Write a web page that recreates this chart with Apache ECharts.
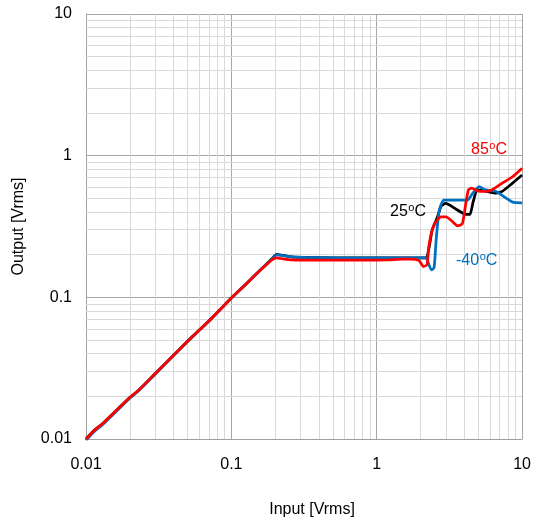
<!DOCTYPE html>
<html><head><meta charset="utf-8">
<script src="https://cdn.jsdelivr.net/npm/echarts@6/dist/echarts.min.js"></script>
<style>html,body{margin:0;padding:0;background:#fff}#c{width:534px;height:525px}</style>
</head><body><div id="c"></div>
<script>
const FONT = "'Liberation Sans', Arial, sans-serif";
// 25 °C (black)
const x25 = [0.01,0.0115,0.0131,0.02,0.0228,0.03,0.04,0.05,0.07,0.1,0.13,0.16,0.19,0.205,0.22,0.26,0.35,0.5,0.8,1.2,1.8,2.18,2.3,2.41,2.62,2.77,2.98,3.5,4.1,4.37,4.6,4.93,5.5,6.58,7.3,8.6,10];
const y25 = [0.01,0.0116,0.0129,0.0196,0.0219,0.029,0.039,0.049,0.068,0.099,0.128,0.158,0.187,0.201,0.199,0.193,0.191,0.19,0.19,0.19,0.19,0.19,0.23,0.30,0.37,0.44,0.46,0.42,0.385,0.385,0.47,0.573,0.565,0.545,0.56,0.64,0.73];
// -40 °C (blue)
const xM40 = [0.01,0.0115,0.0131,0.02,0.0228,0.03,0.04,0.05,0.07,0.1,0.13,0.16,0.19,0.205,0.22,0.26,0.35,0.5,0.8,1.2,1.8,2.18,2.24,2.38,2.48,2.56,2.69,2.9,3.5,4.2,4.5,5.06,5.6,6.58,7.8,8.6,10];
const yM40 = [0.0098,0.0114,0.0127,0.0194,0.0217,0.0288,0.0388,0.0488,0.0678,0.0985,0.128,0.157,0.186,0.199,0.198,0.193,0.191,0.19,0.19,0.19,0.19,0.19,0.18,0.156,0.162,0.25,0.41,0.486,0.486,0.486,0.53,0.605,0.573,0.56,0.5,0.47,0.465];
// 85 °C (red)
const x85 = [0.01,0.0115,0.0131,0.02,0.0228,0.03,0.04,0.05,0.07,0.1,0.13,0.16,0.19,0.205,0.22,0.26,0.35,0.5,0.8,1.2,1.5,1.7,1.95,2.1,2.22,2.28,2.41,2.55,2.77,3.0,3.24,3.6,3.88,4.1,4.27,4.5,4.93,5.5,6.2,7.3,8.6,10];
const y85 = [0.01,0.0116,0.0129,0.0196,0.0219,0.029,0.039,0.049,0.068,0.099,0.128,0.157,0.184,0.19,0.188,0.184,0.183,0.183,0.183,0.184,0.186,0.186,0.182,0.165,0.17,0.228,0.30,0.34,0.37,0.37,0.35,0.32,0.33,0.46,0.573,0.59,0.565,0.56,0.573,0.64,0.71,0.815];
// axis ticks
const axisMin = 0.01, axisMax = 10;
const tickLabels = ['0.01','0.1','1','10'];
const decades = [0.01, 0.1, 1];
const minorMultipliers = [2,3,4,5,6,7,8,9];

function zip(xs, ys){ return xs.map((x,i)=>[x, ys[i]]); }
const minorVals = [];
decades.forEach(d => minorMultipliers.forEach(m => minorVals.push(+(d*m).toPrecision(3))));

const fmt = v => { const s = String(+Number(v).toPrecision(3)); return tickLabels.includes(s) ? s : ''; };

function textW(t, size){
  const c = document.createElement('canvas').getContext('2d');
  c.font = size + 'px ' + FONT;
  return c.measureText(t).width;
}
function degLabel(num, color, x, y){
  const w1 = textW(num, 16), w2 = textW('o', 11);
  return { type:'group', x:x, y:y, z:20, children:[
    { type:'text', x:0, y:0, z:20, style:{ text:num, fill:color, font:'16px ' + FONT, verticalAlign:'middle' } },
    { type:'text', x:w1 + 0.5, y:-4.5, z:20, style:{ text:'o', fill:color, font:'11px ' + FONT, verticalAlign:'middle' } },
    { type:'text', x:w1 + w2 + 0.5, y:0, z:20, style:{ text:'C', fill:color, font:'16px ' + FONT, verticalAlign:'middle' } }
  ]};
}

const chart = echarts.init(document.getElementById('c'));
const lineBase = { type:'line', showSymbol:false, symbol:'none', smooth:0.2, animation:false, z:10 };
chart.setOption({
  animation:false,
  grid:{ left:86, top:14, right:11, bottom:86, containLabel:false },
  xAxis:{
    type:'log', logBase:10, min:axisMin, max:axisMax,
    name:'Input [Vrms]', nameLocation:'middle', nameGap:63,
    nameTextStyle:{ fontFamily:FONT, fontSize:16, color:'#000', padding:[0,0,0,16] },
    axisLine:{ lineStyle:{ color:'#a0a0a0', width:1 } },
    axisTick:{ show:false },
    axisLabel:{ fontFamily:FONT, fontSize:16, color:'#000', margin:18, formatter:fmt },
    splitLine:{ show:true, lineStyle:{ color:'#a6a6a6', width:1 } },
    minorSplitLine:{ show:false }
  },
  yAxis:{
    type:'log', logBase:10, min:axisMin, max:axisMax,
    name:'Output [Vrms]', nameLocation:'middle', nameGap:59,
    nameTextStyle:{ fontFamily:FONT, fontSize:16, color:'#000' },
    axisLine:{ show:true, lineStyle:{ color:'#a0a0a0', width:1 } },
    axisTick:{ show:false },
    axisLabel:{ fontFamily:FONT, fontSize:16, color:'#000', margin:14, formatter:fmt },
    splitLine:{ show:true, lineStyle:{ color:'#a6a6a6', width:1 } }
  },
  series:[
    { type:'line', data:[], silent:true, z:1, animation:false,
      markLine:{ silent:true, z:1, symbol:['none','none'], animation:false, label:{show:false},
        lineStyle:{ type:'solid', color:'#d9d9d9', width:1 },
        emphasis:{ disabled:true },
        data: minorVals.map(v=>({xAxis:v})).concat(minorVals.map(v=>({yAxis:v}))) } },
    Object.assign({}, lineBase, { name:'25ºC', data:zip(x25,y25), lineStyle:{ color:'#000000', width:2.75 }, itemStyle:{color:'#000'} }),
    Object.assign({}, lineBase, { name:'-40ºC', data:zip(xM40,yM40), lineStyle:{ color:'#0070c0', width:2.75 }, itemStyle:{color:'#0070c0'} }),
    Object.assign({}, lineBase, { name:'85ºC', data:zip(x85,y85), lineStyle:{ color:'#ff0000', width:2.75 }, itemStyle:{color:'#ff0000'} })
  ],
  graphic:[
    degLabel('85', '#ff0000', 471, 150),
    degLabel('25', '#000000', 390, 212),
    degLabel('-40', '#0070c0', 456, 261)
  ]
});
</script></body></html>
